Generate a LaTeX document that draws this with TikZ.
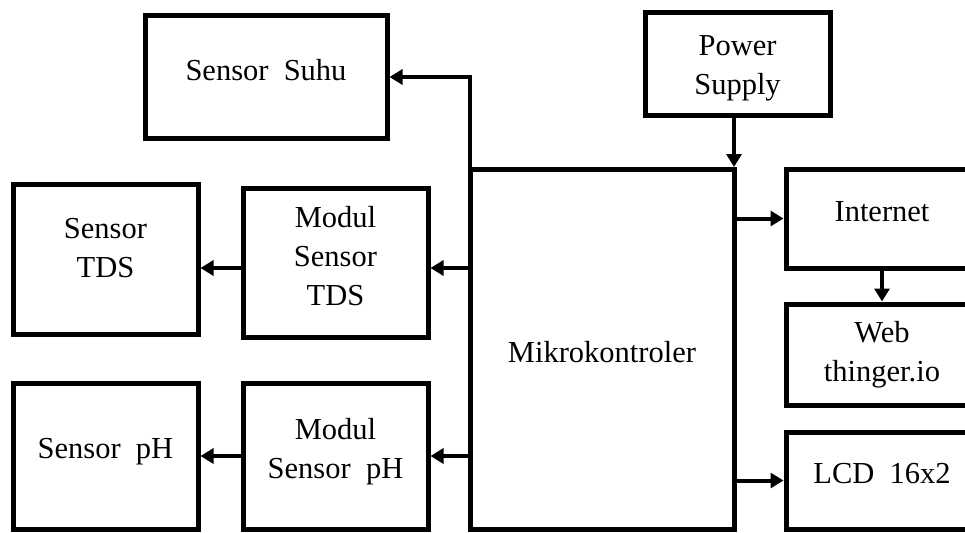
\documentclass[tikz,border=0pt]{standalone}
\usepackage{fontspec}
\setmainfont{Liberation Serif}
\usetikzlibrary{arrows.meta,calc}
\begin{document}
\begin{tikzpicture}[x=1pt,y=-1pt,
  blk/.style={draw,line width=5pt,rectangle,inner sep=0pt},
  lbl/.style={align=center,inner sep=0pt,font=\fontsize{30.5}{39}\selectfont},
  arr/.style={line width=4pt,-{Triangle[length=13pt,width=15pt]}}]
\useasboundingbox (0,0) rectangle (965,532);
\clip (0,0) rectangle (965,532);
\node[blk,minimum width=242pt,minimum height=122pt] (suhu) at (266,77) {};
\node[blk,minimum width=185pt,minimum height=150pt] (tds) at (105.5,259) {};
\node[blk,minimum width=185pt,minimum height=149pt] (mtds) at (335.5,262.5) {};
\node[blk,minimum width=185pt,minimum height=146pt] (ph) at (105.5,456) {};
\node[blk,minimum width=185pt,minimum height=146pt] (mph) at (335.5,456) {};
\node[blk,outer sep=0pt,minimum width=264pt,minimum height=360pt] (mikro) at (602,349) {};
\node[blk,minimum width=185pt,minimum height=102pt] (power) at (737.5,64) {};
\node[blk,minimum width=192pt,minimum height=99pt] (inet) at (882,218.5) {};
\node[blk,minimum width=192pt,minimum height=101pt] (web) at (882,354.5) {};
\node[blk,minimum width=192pt,minimum height=97pt] (lcd) at (882,480.5) {};
% texts
\node[lbl] (suhuT) at ([yshift=7pt]suhu.center) {Sensor\ \ Suhu};
\node[lbl] (tdsT) at ([yshift=10.5pt]tds.center) {Sensor\\TDS};
\node[lbl] (mtdsT) at ([yshift=6.5pt]mtds.center) {Modul\\Sensor\\TDS};
\node[lbl] (phT) at ([yshift=4pt]ph.center) {Sensor\ \ pH};
\node[lbl] (mphT) at ([yshift=4.5pt]mph.center) {Modul\\Sensor\ \ pH};
\node[lbl] (mikroT) at ([yshift=-3pt]mikro.center) {Mikrokontroler};
\node[lbl] (powerT) at ([yshift=-4pt]power.center) {Power\\Supply};
\node[lbl] (inetT) at ([yshift=6.5pt]inet.center) {Internet};
\node[lbl] (webT) at (web.center) {Web\\thinger.io};
\node[lbl] (lcdT) at ([yshift=6.5pt]lcd.center) {LCD\ \ 16x2};
% connectors
\draw[arr] (mikro.north west) |- (suhu.east);
\draw[arr] ([yshift=-5.5pt]mikro.west |- mtds.east) -- ([yshift=-5.5pt]mtds.east);
\draw[arr] ([yshift=-5.5pt]mtds.west) -- ([yshift=-5.5pt]mtds.west -| tds.east);
\draw[arr] (mikro.west |- mph.east) -- (mph.east);
\draw[arr] (mph.west) -- (mph.west -| ph.east);
\draw[arr,shorten >=2pt] (power.south -| mikro.north east) -- (mikro.north east);
\draw[arr] (mikro.east |- inet.west) -- (inet.west);
\draw[arr] (inet.south) -- (web.north);
\draw[arr] (mikro.east |- lcd.west) -- (lcd.west);
\end{tikzpicture}
\end{document}
